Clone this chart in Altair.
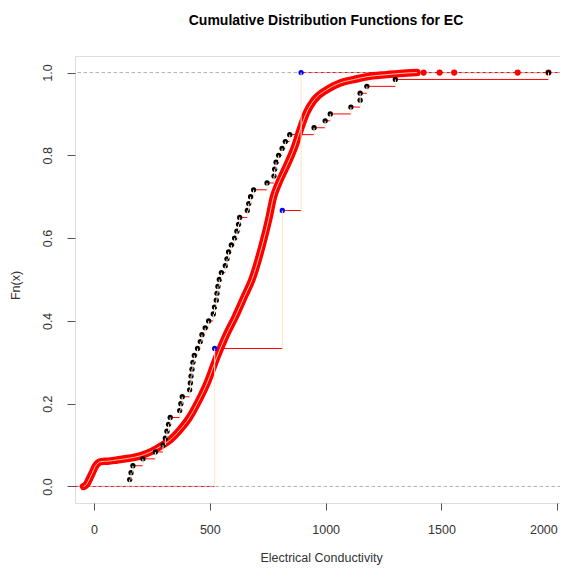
import altair as alt
import pandas as pd

# ---------------- data ----------------
XLIM = [-82, 2042]
YLIM = [-0.04, 1.04]

# large sample (red): its ECDF read as (x, Fn) along the curve
red_x = [-45, -38, -30, -20, -8, 5, 18, 30, 60, 100, 150, 200, 250, 290, 330,
         370, 410, 450, 490, 530, 570, 610, 650, 682, 725, 754, 775, 797, 826,
         869, 890, 919, 948, 1006, 1063, 1121, 1178, 1265, 1351, 1394]
red_f = [0.0, 0.002, 0.007, 0.018, 0.032, 0.048, 0.057, 0.060, 0.061, 0.064,
         0.068, 0.074, 0.085, 0.098, 0.113, 0.136, 0.165, 0.205, 0.252, 0.312,
         0.365, 0.41, 0.46, 0.50, 0.58, 0.645, 0.70, 0.733, 0.768, 0.825, 0.862,
         0.905, 0.932, 0.959, 0.975, 0.983, 0.990, 0.995, 0.999, 1.0]
red_tail_x = [1423, 1492, 1555, 1829, 1962]

# medium sample (black), 60 sorted values
black_x = [154, 160, 168, 211, 265, 298, 308, 315, 322, 329, 370, 375, 381, 413,
           416, 419, 423, 427, 433, 447, 459, 466, 480, 495, 515, 520, 528, 531,
           535, 541, 550, 567, 574, 581, 593, 607, 617, 624, 629, 662, 668, 676,
           689, 747, 777, 780, 786, 797, 812, 826, 845, 950, 998, 1020, 1109,
           1149, 1149, 1178, 1301, 1962]

# small sample (blue), 3 values
blue_x = [521, 813, 894]

TITLE = "Cumulative Distribution Functions for EC"
XTITLE = "Electrical Conductivity"
YTITLE = "Fn(x)"
XTICKS = [0, 500, 1000, 1500, 2000]
YTICKS = [0.0, 0.2, 0.4, 0.6, 0.8, 1.0]

FONT = "Liberation Sans"
HCOL = "#ff0000"      # horizontals
VCOL = "#ffe4c4"      # verticals (bisque)


def ecdf_frames(xs):
    n = len(xs)
    pts = pd.DataFrame({"x": xs, "y": [(i + 1) / n for i in range(n)]})
    hor = pd.DataFrame({"x": xs[:-1], "x2": xs[1:],
                        "y": [(i + 1) / n for i in range(n - 1)]})
    ver = pd.DataFrame({"x": xs, "y": [i / n for i in range(n)],
                        "y2": [(i + 1) / n for i in range(n)]})
    return pts, hor, ver


xscale = alt.Scale(domain=XLIM, nice=False, zero=False)
yscale = alt.Scale(domain=YLIM, nice=False, zero=False)

xaxis = alt.Axis(values=XTICKS, format="d", domain=False, grid=False,
                 tickSize=7, tickColor="#555", labelFont=FONT,
                 labelFontSize=12.5, labelColor="#333", labelPadding=13,
                 labelFlush=12,
                 title=XTITLE, titleFont=FONT, titleFontSize=12.5,
                 titleFontWeight="normal", titleColor="#333",
                 titleX=246, titleY=54, titleBaseline="middle",
                 titleAlign="center")
yaxis = alt.Axis(values=YTICKS, format=".1f", domain=False, grid=False,
                 tickSize=8, tickColor="#555", labelFont=FONT,
                 labelFontSize=12.5, labelColor="#333", labelPadding=13,
                 labelAngle=270, labelAlign="center", labelBaseline="bottom",
                 title=YTITLE, titleFont=FONT, titleFontSize=12.5,
                 titleFontWeight="normal", titleColor="#333",
                 titleAngle=270, titleX=-60, titleY=229,
                 titleBaseline="middle", titleAlign="center")

X = alt.X("x:Q", scale=xscale, axis=xaxis)
Y = alt.Y("y:Q", scale=yscale, axis=yaxis)

# extreme horizontals (to -inf at 0 and +inf at 1) of the series spanning them
ext = pd.DataFrame({"x": [XLIM[0], blue_x[-1]], "x2": [blue_x[0], XLIM[1]],
                    "y": [0.0, 1.0]})

bk_pts, bk_hor, bk_ver = ecdf_frames(black_x)
bl_pts, bl_hor, bl_ver = ecdf_frames(blue_x)
red_df = pd.DataFrame({"x": red_x, "y": red_f})
tail_df = pd.DataFrame({"x": red_tail_x, "y": [1.0] * len(red_tail_x)})
tail_hor = pd.DataFrame({"x": [red_x[-1]] + red_tail_x[:-1], "x2": red_tail_x,
                         "y": [1.0] * len(red_tail_x)})

hor_all = pd.concat([bk_hor, bl_hor, tail_hor, ext], ignore_index=True)

layers = []
layers.append(alt.Chart(hor_all).mark_rule(color=HCOL, strokeWidth=1, clip=True)
              .encode(x=X, x2="x2:Q", y=Y))
layers.append(alt.Chart(pd.DataFrame({"y": [0.0, 1.0]}))
              .mark_rule(color="#b3b3b3", strokeDash=[3.5, 2.5], strokeWidth=1)
              .encode(y=Y))
# red large sample
layers.append(alt.Chart(red_df).mark_line(color="#ff0000", strokeWidth=7.5,
                                          strokeCap="round", strokeJoin="round",
                                          interpolate="monotone", clip=True)
              .encode(x=X, y=Y, order="x:Q"))
layers.append(alt.Chart(red_df).mark_line(color="#ffc2a8", strokeWidth=1,
                                          interpolate="monotone", clip=True)
              .encode(x=X, y=Y, order="x:Q"))
layers.append(alt.Chart(tail_df).mark_circle(color="#ff0000", size=38, opacity=1)
              .encode(x=X, y=Y))
# black sample
layers.append(alt.Chart(bk_pts).mark_circle(color="#000000", size=28, opacity=1)
              .encode(x=X, y=Y))
layers.append(alt.Chart(bk_ver).mark_rule(color=VCOL, strokeWidth=1)
              .encode(x=X, y=Y, y2="y2:Q"))
# blue sample
layers.append(alt.Chart(bl_pts).mark_circle(color="#0000ff", size=28, opacity=1)
              .encode(x=X, y=Y))
layers.append(alt.Chart(bl_ver).mark_rule(color=VCOL, strokeWidth=1)
              .encode(x=X, y=Y, y2="y2:Q"))

chart = alt.layer(*layers).properties(
    width=492, height=447,
    title=alt.TitleParams(TITLE, font=FONT, fontSize=14, fontWeight="bold",
                          color="#000", anchor="middle", frame="group",
                          baseline="alphabetic", offset=17, dx=5),
    autosize=alt.AutoSizeParams(type="none"),
    padding={"left": 67, "top": 48, "right": -7, "bottom": 63},
).configure_view(stroke="#666", strokeWidth=1).configure(background="white")

chart.save("out.html", embed_options={"renderer": "svg", "actions": False})
